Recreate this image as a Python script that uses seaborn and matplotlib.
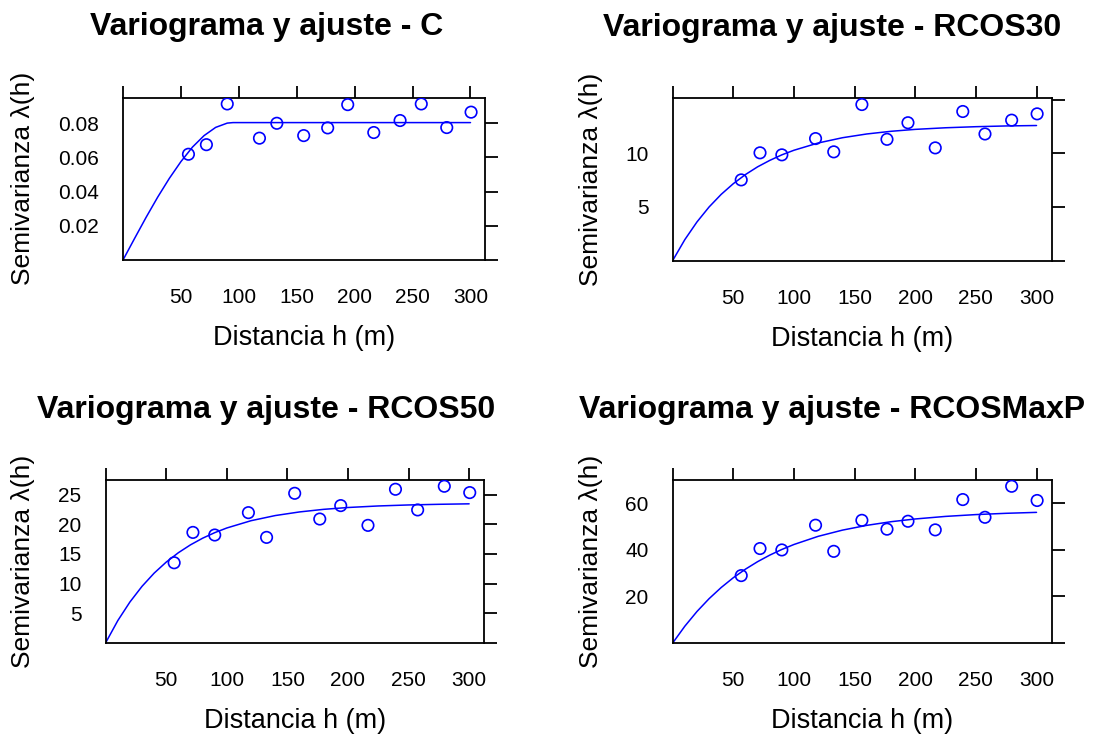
import matplotlib
matplotlib.use("Agg")
import matplotlib.pyplot as plt
import seaborn as sns

sns.set_style("white")
plt.rcParams['font.family'] = ['Liberation Sans', 'DejaVu Sans']
plt.rcParams['text.color'] = 'black'
plt.rcParams['xtick.color'] = 'black'
plt.rcParams['ytick.color'] = 'black'

W, H = 1096, 736

# lag distances (m), same lags in the four variograms
dist = [56.5, 72.0, 90.0, 117.8, 132.8, 156.0, 176.7, 194.0, 216.5, 239.2, 257.5, 279.5, 300.5]

# empirical semivariance for each variable
gamma_c = [0.0618, 0.0674, 0.0912, 0.0712, 0.0799, 0.0727, 0.0772, 0.0908, 0.0745, 0.0815, 0.0912, 0.0774, 0.0864]
gamma_rcos30 = [7.53, 10.06, 9.87, 11.39, 10.15, 14.57, 11.32, 12.87, 10.52, 13.92, 11.82, 13.11, 13.70]
gamma_rcos50 = [13.51, 18.64, 18.20, 21.98, 17.80, 25.25, 20.90, 23.17, 19.83, 25.93, 22.44, 26.44, 25.37]
gamma_rcosmaxp = [28.9, 40.5, 39.9, 50.5, 39.3, 52.6, 48.8, 52.2, 48.5, 61.5, 53.9, 67.2, 61.1]

# fitted model lines
h_fit_c = [0, 10, 20, 30, 40, 50, 60, 70, 80, 90, 95, 300]
fit_c = [0, 0.0126, 0.0250, 0.0368, 0.0477, 0.0575, 0.0660, 0.0727, 0.0775, 0.0800, 0.0803, 0.0803]
h_fit = [0, 10, 20, 30, 40, 50, 60, 70, 80, 90, 100, 120, 140, 160, 180, 200, 225, 250, 275, 300]
fit_rcos30 = [0, 1.95, 3.60, 5.00, 6.18, 7.18, 8.03, 8.75, 9.35, 9.87, 10.30, 10.98, 11.47, 11.82,
              12.07, 12.25, 12.40, 12.50, 12.57, 12.61]
fit_rcos50 = [0, 3.74, 6.88, 9.53, 11.76, 13.63, 15.21, 16.54, 17.66, 18.60, 19.39, 20.62, 21.49, 22.10,
              22.54, 22.85, 23.11, 23.28, 23.39, 23.47]
fit_rcosmaxp = [0, 7.20, 13.50, 19.00, 23.80, 28.00, 31.66, 34.87, 37.67, 40.11, 42.24, 45.74, 48.40, 50.44,
                52.00, 53.18, 54.28, 55.06, 55.61, 56.01]

x_ticks = [0, 50, 100, 150, 200, 250, 300]
x_ticklabels = ['', '50', '100', '150', '200', '250', '300']

names = ['C', 'RCOS30', 'RCOS50', 'RCOSMaxP']
gammas = [gamma_c, gamma_rcos30, gamma_rcos50, gamma_rcosmaxp]
fit_h = [h_fit_c, h_fit, h_fit, h_fit]
fits = [fit_c, fit_rcos30, fit_rcos50, fit_rcosmaxp]
y_ticks = [[0, 0.02, 0.04, 0.06, 0.08], [0, 5, 10, 15], [0, 5, 10, 15, 20, 25], [0, 20, 40, 60]]
y_ticklabels = [['', '0.02', '0.04', '0.06', '0.08'], ['', '5', '10', ''],
                ['', '5', '10', '15', '20', '25'], ['', '20', '40', '60']]

# panel boxes in pixels: left, right, top, bottom
boxes = [(123, 485, 97.7, 260), (672.7, 1051.7, 98.3, 260.5),
         (105.7, 484.3, 480, 642.7), (672.7, 1051.7, 480, 643)]
title_pos = [(266.7, 35), (832.5, 36), (265.7, 418), (832.5, 418)]
ylab_x = [23, 591, 23, 591]

fig = plt.figure(figsize=(W / 100, H / 100), dpi=100)

for i in range(4):
    l, r, t, b = boxes[i]
    ax = fig.add_axes([l / W, 1 - b / H, (r - l) / W, (b - t) / H])
    sns.lineplot(x=fit_h[i], y=fits[i], ax=ax, color='blue', lw=1.1,
                 estimator=None, sort=False)
    sns.scatterplot(x=dist, y=gammas[i], ax=ax, marker='o', s=68,
                    fc='none', ec='blue', linewidth=1.2, zorder=3)
    ax.set_xlim(0, 1.04 * max(dist))
    ax.set_ylim(0, 1.04 * max(gammas[i]))
    ax.set_xticks(x_ticks)
    ax.set_xticklabels(x_ticklabels)
    ax.set_yticks(y_ticks[i])
    ax.set_yticklabels(y_ticklabels[i])
    ax.tick_params(direction='out', length=9, width=1.3, colors='black',
                   top=True, right=True, labelsize=15)
    ax.tick_params(axis='x', pad=11.5)
    ax.tick_params(axis='y', pad=8.5)
    for sp in ax.spines.values():
        sp.set_visible(True)
        sp.set_color('black')
        sp.set_linewidth(1.3)
    ax.set_xlabel('')
    ax.set_ylabel('')

    fig.text(title_pos[i][0] / W, 1 - title_pos[i][1] / H,
             'Variograma y ajuste - ' + names[i], ha='center', va='baseline',
             fontsize=23, fontweight='bold')
    fig.text((l + r) / 2 / W, 1 - (b + 85) / H, 'Distancia h (m)',
             ha='center', va='baseline', fontsize=19.5)
    fig.text(ylab_x[i] / W, 1 - (t + b) / 2 / H, 'Semivarianza λ(h)',
             ha='center', va='center', rotation=90, fontsize=19)

fig.savefig('out.png', dpi=100, facecolor='white')
